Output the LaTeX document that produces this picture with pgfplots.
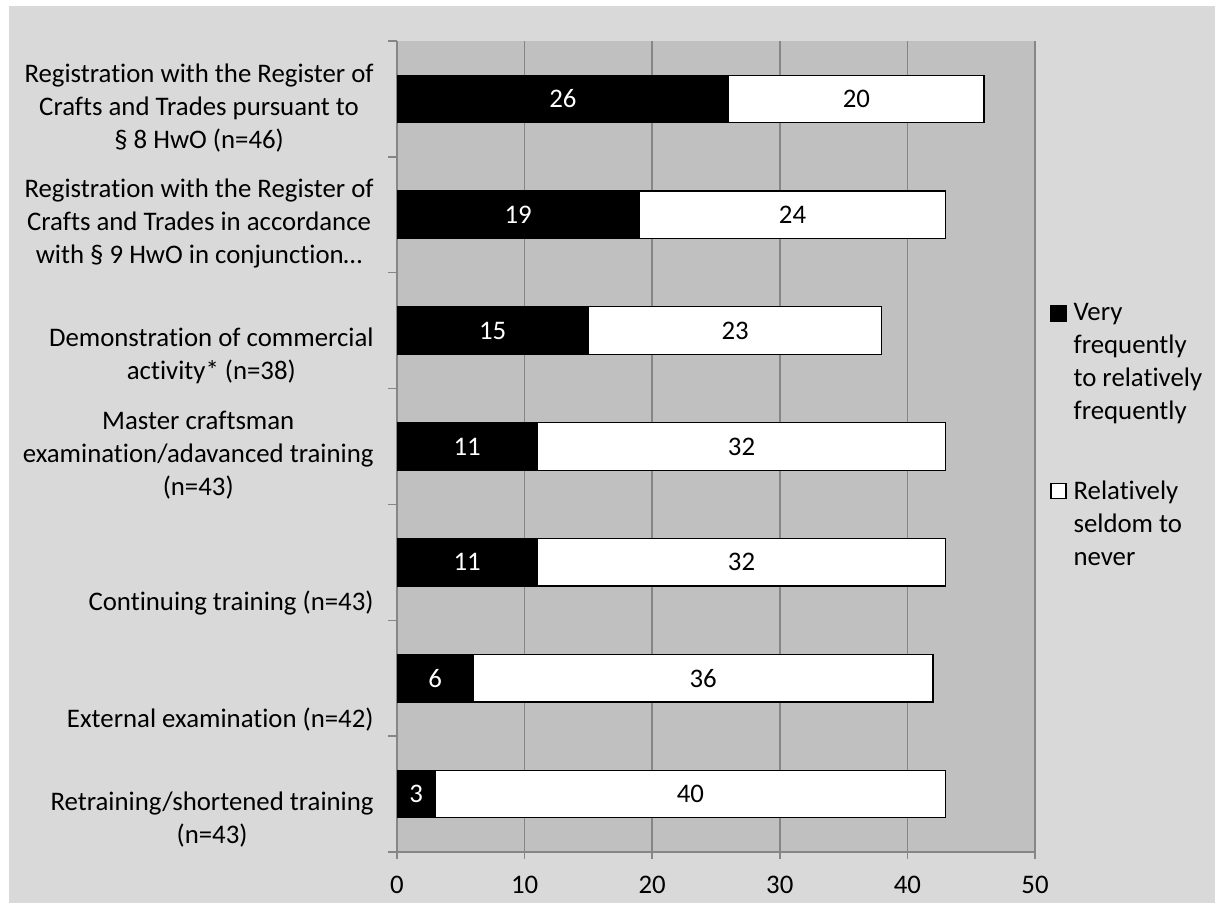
\documentclass[border=0pt]{standalone}
\usepackage{fontspec}
\setmainfont{Carlito}[Ligatures=NoCommon]
\usepackage{pgfplots}
\pgfplotsset{compat=1.18}
\definecolor{outerbg}{HTML}{D9D9D9}
\definecolor{plotbg}{HTML}{C0C0C0}
\definecolor{gridc}{HTML}{868686}

% legend squares raised to the first text line of each entry
\pgfplotsset{
  legA/.style={legend image code/.code={\draw[##1] (0pt,21.25pt) rectangle (7.5pt,28.75pt);}},
  legB/.style={legend image code/.code={\draw[##1] (0pt,13pt) rectangle (7.5pt,20.5pt);}},
}

% black = very/relatively frequently, white = relatively seldom to never
% y = 0 is the bottom category
\pgfplotstableread{
y  freq  seldom
0  3     40
1  6     36
2  11    32
3  11    32
4  15    23
5  19    24
6  26    20
}\datatab

\begin{document}
\fontsize{13.4}{16.5}\selectfont
\begin{tikzpicture}[x=1pt,y=1pt]
  \fill[white] (0,0) rectangle (607.5,451.5);
  \fill[outerbg] (4.5,0) rectangle (607.5,448.5);

  \begin{axis}[
    at={(198.5pt,25.5pt)}, anchor=south west,
    scale only axis, width=319pt, height=405.5pt,
    xmin=0, xmax=50, ymin=-0.5, ymax=6.5,
    xbar stacked, bar width=23.75pt,
    axis background/.style={fill=plotbg},
    axis x line*=bottom, axis y line*=left,
    axis line style={gridc, line width=0.75pt, -},
    xtick={0,10,...,50},
    xmajorgrids,
    major grid style={gridc, line width=0.75pt},
    tick align=outside,
    major tick length=3.5pt,
    minor tick length=4.5pt,
    tick style={gridc, line width=0.75pt},
    major y tick style={draw=none},
    ytick={0,...,6},
    minor ytick={-0.5,0.5,...,6.5},
    /pgf/number format/assume math mode=true,
    xticklabel style={anchor=north, inner sep=0pt, yshift=-8.5pt},
    yticklabel style={anchor=south east, align=center, inner sep=0pt,
                      xshift=-8pt, yshift=-26.8pt},
    yticklabels={
      {Retraining/shortened training\\(n=43)},
      {External examination (n=42)},
      {Continuing training (n=43)},
      {Master craftsman\\examination/adavanced training\\(n=43)},
      {Demonstration of commercial\\activity* (n=38)},
      {Registration with the Register of\\Crafts and Trades in accordance\\with § 9 HwO in conjunction…},
      {Registration with the Register of\\Crafts and Trades pursuant to\\§ 8 HwO (n=46)}
    },
    legend cell align=left,
    legend style={at={(1.0235,0.677)}, anchor=north west,
                  draw=none, fill=none, inner sep=0pt,
                  cells={align=left},
                  nodes={inner sep=0pt},
                  column sep=3.5pt, row sep=28.5pt},
  ]
    \addplot[fill=black, draw=black, line width=0.6pt, legA]
      table[x=freq, y=y] {\datatab};
    \addlegendentry{Very\\frequently\\to relatively\\frequently}
    \addplot[fill=white, draw=black, line width=0.6pt, legB]
      table[x=seldom, y=y] {\datatab};
    \addlegendentry{Relatively\\seldom to\\never}
  \end{axis}

  % value labels, centred in each segment
  \begin{axis}[
    at={(198.5pt,25.5pt)}, anchor=south west,
    scale only axis, width=319pt, height=405.5pt,
    xmin=0, xmax=50, ymin=-0.5, ymax=6.5,
    hide axis,
    nodes near coords align={center},
  ]
    \addplot[draw=none, mark=none, nodes near coords, point meta=explicit symbolic,
      every node near coord/.append style={text=white, inner sep=0pt}]
      coordinates {(1.5,0) [3] (3,1) [6] (5.5,2) [11] (5.5,3) [11]
                   (7.5,4) [15] (9.5,5) [19] (13,6) [26]};
    \addplot[draw=none, mark=none, nodes near coords, point meta=explicit symbolic,
      every node near coord/.append style={text=black, inner sep=0pt}]
      coordinates {(23,0) [40] (24,1) [36] (27,2) [32] (27,3) [32]
                   (26.5,4) [23] (31,5) [24] (36,6) [20]};
  \end{axis}
\end{tikzpicture}
\end{document}
